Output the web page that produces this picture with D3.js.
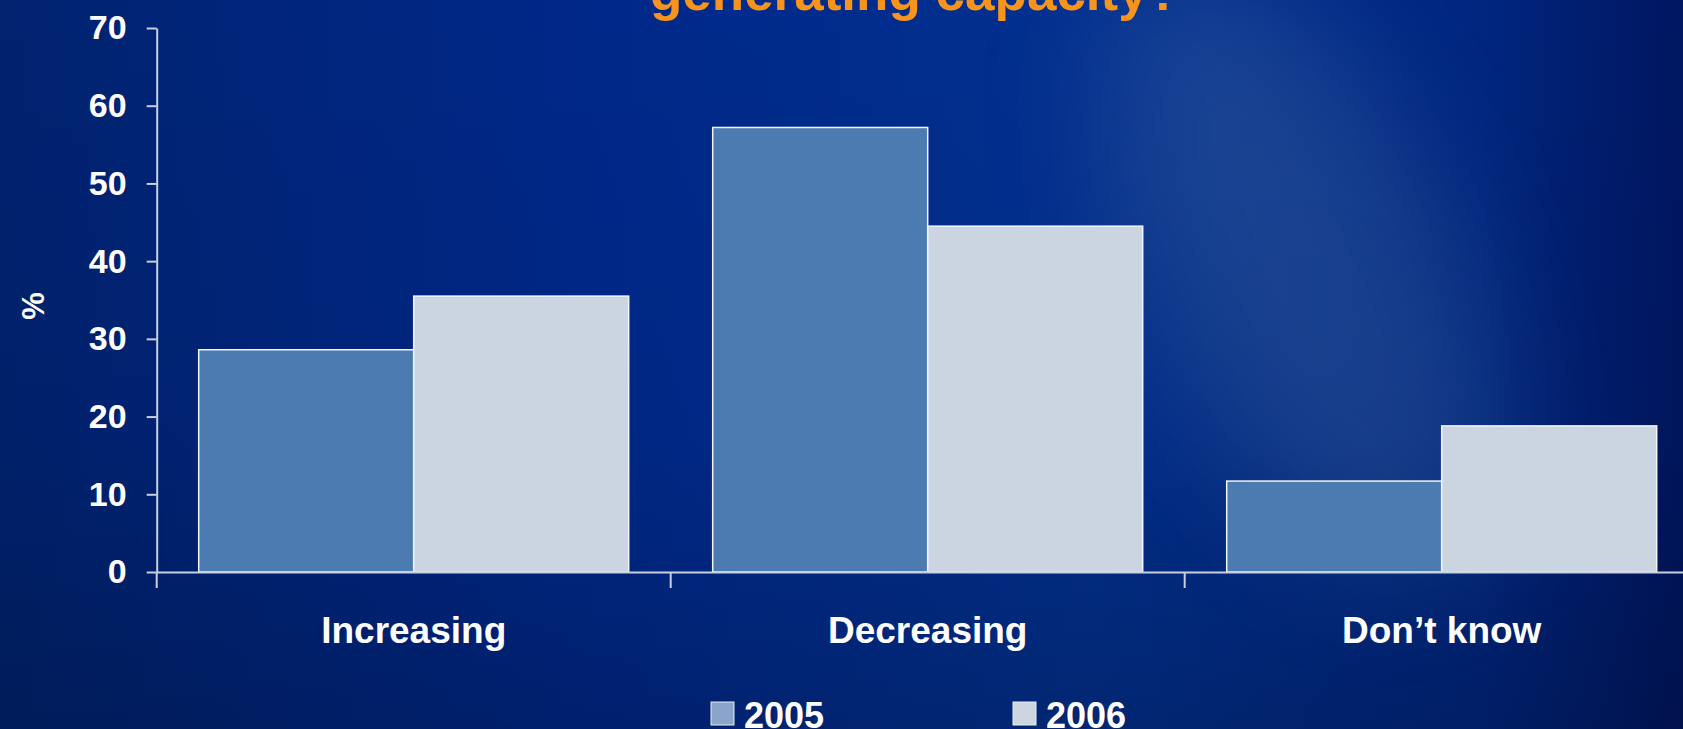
<!DOCTYPE html>
<html>
<head>
<meta charset="utf-8">
<script src="https://cdn.jsdelivr.net/npm/d3@7"></script>
<style>
  html, body { margin: 0; padding: 0; overflow: hidden; background: #002a8a; }
  svg { display: block; font-family: "Liberation Sans", Arial, sans-serif; font-weight: bold; }
</style>
</head>
<body>
<svg width="1683" height="729"></svg>
<script>
const width = 1683;
const height = 729;

const categories = ['Increasing', 'Decreasing', 'Don\u2019t know'];
const years = ['2005', '2006'];
const values2005 = [28.6, 57.2, 11.7];
const values2006 = [35.5, 44.5, 18.8];
const yTicks = [0, 10, 20, 30, 40, 50, 60, 70];

const data = categories.map((c, i) => ({ category: c, values: [values2005[i], values2006[i]] }));

const barColor = ['#4b7bb0', '#cbd5e1'];
const legendColor = ['#8aa4ca', '#cdd5e1'];

const svg = d3.select('svg');
const defs = svg.append('defs');

// background
const bg = defs.append('linearGradient').attr('id', 'bg').attr('x1', 0).attr('y1', 0).attr('x2', 1).attr('y2', 0);
bg.append('stop').attr('offset', '0%').attr('stop-color', '#00226f');
bg.append('stop').attr('offset', '35%').attr('stop-color', '#00288a');
bg.append('stop').attr('offset', '65%').attr('stop-color', '#02308f');
bg.append('stop').attr('offset', '88%').attr('stop-color', '#002680');
bg.append('stop').attr('offset', '100%').attr('stop-color', '#001660');

const shade = defs.append('linearGradient').attr('id', 'shade').attr('x1', 0).attr('y1', 0).attr('x2', 0).attr('y2', 1);
shade.append('stop').attr('offset', '0%').attr('stop-color', '#000').attr('stop-opacity', 0);
shade.append('stop').attr('offset', '60%').attr('stop-color', '#000').attr('stop-opacity', 0.05);
shade.append('stop').attr('offset', '100%').attr('stop-color', '#000').attr('stop-opacity', 0.2);

defs.append('filter').attr('id', 'blur').attr('x', '-50%').attr('y', '-50%').attr('width', '200%').attr('height', '200%')
    .append('feGaussianBlur').attr('stdDeviation', 60);

svg.append('rect').attr('width', width).attr('height', height).attr('fill', 'url(#bg)');
svg.append('ellipse')
    .attr('cx', 1300).attr('cy', 270).attr('rx', 150).attr('ry', 320)
    .attr('transform', 'rotate(-25, 1300, 270)')
    .attr('fill', '#3a64a4').attr('opacity', 0.42)
    .attr('filter', 'url(#blur)');
svg.append('rect').attr('width', width).attr('height', height).attr('fill', 'url(#shade)');

// title (only its last line shows)
svg.append('text')
    .attr('x', 915).attr('y', 10)
    .attr('text-anchor', 'middle')
    .attr('fill', '#f7941d')
    .style('font-size', '53px')
    .text('generating capacity?');

const plotLeft = 156.7;
const plotTop = 28;
const plotBottom = 572;
const bandW = 514;

const x0 = d3.scaleBand()
    .domain(categories)
    .range([plotLeft, plotLeft + bandW * categories.length])
    .padding(0);

const gap = 42;
const x1 = d3.scaleBand()
    .domain(years)
    .range([gap, x0.bandwidth() - gap])
    .padding(0);

const y = d3.scaleLinear()
    .domain([0, 70])
    .range([plotBottom, plotTop]);

// bars
const groups = svg.append('g').selectAll('g')
    .data(data)
    .join('g')
    .attr('transform', d => `translate(${x0(d.category)},0)`);

groups.selectAll('rect')
    .data(d => d.values.map((v, i) => ({ year: years[i], value: v, i })))
    .join('rect')
    .attr('x', d => x1(d.year))
    .attr('y', d => y(d.value))
    .attr('width', x1.bandwidth())
    .attr('height', d => plotBottom - y(d.value))
    .attr('fill', d => barColor[d.i])
    .attr('stroke', '#f2f5fa')
    .attr('stroke-width', 1.5);

// y axis
const yAxis = svg.append('g')
    .attr('transform', `translate(${plotLeft},0)`)
    .call(d3.axisLeft(y).tickValues(yTicks).tickSize(10).tickPadding(20).tickSizeOuter(0));
yAxis.select('.domain').attr('stroke', '#c9cfdf').attr('stroke-width', 2);
yAxis.selectAll('.tick line').attr('stroke', '#c9cfdf').attr('stroke-width', 2);
yAxis.selectAll('.tick text')
    .attr('fill', '#ffffff')
    .style('font-size', '34px')
    .style('font-family', '"Liberation Sans", Arial, sans-serif')
    .style('font-weight', 'bold');

// x axis
const xAxis = svg.append('g')
    .attr('transform', `translate(0,${plotBottom})`)
    .call(d3.axisBottom(x0).tickSize(0).tickPadding(45).tickSizeOuter(0));
xAxis.select('.domain').attr('stroke', '#c9cfdf').attr('stroke-width', 2);
xAxis.selectAll('.tick text')
    .attr('fill', '#ffffff')
    .attr('dy', 0)
    .attr('y', 71)
    .style('font-size', '37px')
    .style('font-family', '"Liberation Sans", Arial, sans-serif')
    .style('font-weight', 'bold');

// category boundary ticks
xAxis.selectAll('.sep')
    .data(categories)
    .join('line')
    .attr('class', 'sep')
    .attr('x1', d => x0(d)).attr('x2', d => x0(d))
    .attr('y1', 0).attr('y2', 16)
    .attr('stroke', '#c9cfdf').attr('stroke-width', 2);

// y label
svg.append('text')
    .attr('transform', 'translate(44, 306) rotate(-90)')
    .attr('text-anchor', 'middle')
    .attr('fill', '#ffffff')
    .style('font-size', '31px')
    .text('%');

// legend
const legendX = [711, 1013];
const legend = svg.append('g').selectAll('g')
    .data(years)
    .join('g')
    .attr('transform', (d, i) => `translate(${legendX[i]}, 702)`);

legend.append('rect')
    .attr('width', 23).attr('height', 23)
    .attr('fill', (d, i) => legendColor[i])
    .attr('stroke', '#e8ecf4').attr('stroke-width', 1);

legend.append('text')
    .attr('x', 33).attr('y', 26)
    .attr('fill', '#ffffff')
    .style('font-size', '36px')
    .text(d => d);
</script>
</body>
</html>
